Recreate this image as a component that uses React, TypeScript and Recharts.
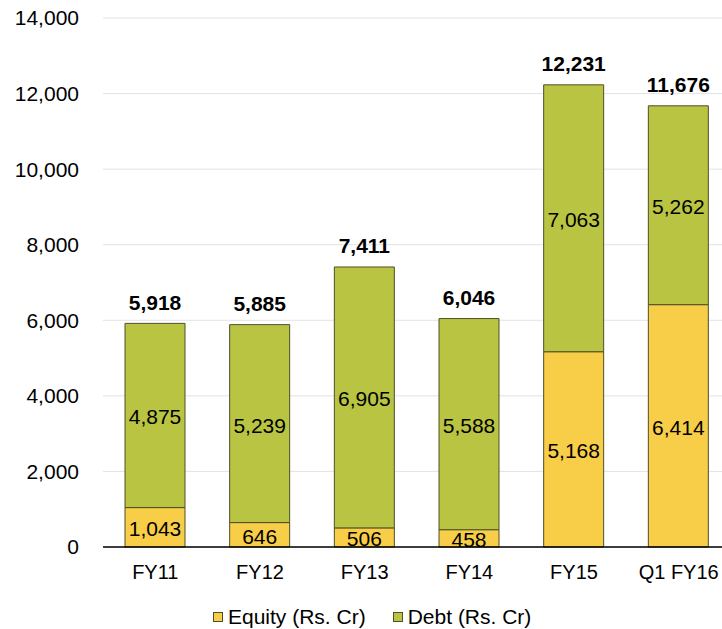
import React from 'react';
import { BarChart, Bar, XAxis, YAxis, CartesianGrid, Legend, LabelList } from 'recharts';

const categories = ['FY11', 'FY12', 'FY13', 'FY14', 'FY15', 'Q1 FY16'];
const equity = [1043, 646, 506, 458, 5168, 6414];
const debt = [4875, 5239, 6905, 5588, 7063, 5262];
const totals = [5918, 5885, 7411, 6046, 12231, 11676];
const yTicks = [0, 2000, 4000, 6000, 8000, 10000, 12000, 14000];

const EQUITY_COLOR = '#F8CD47';
const DEBT_COLOR = '#B9C443';
const EDGE = '#4F4F28';
const FONT = '"Liberation Sans", Arial, sans-serif';

const data = categories.map((name, i) => ({
  name,
  equity: equity[i],
  debt: debt[i],
  total: totals[i],
}));

const fmt = (v: number) => v.toLocaleString('en-US');

const Txt = ({ x, y, size, bold, children }: any) => (
  <text
    x={x}
    y={y}
    textAnchor="middle"
    dominantBaseline="central"
    fontFamily={FONT}
    fontSize={size}
    fontWeight={bold ? 'bold' : 'normal'}
    fill="#000"
  >
    {children}
  </text>
);

const XTick = ({ x, y, payload }: any) => (
  <Txt x={x} y={y + 7.5} size={20}>{payload.value}</Txt>
);

const CenterLabel = ({ x, y, width, height, value }: any) => (
  <Txt x={x + width / 2} y={y + height / 2 + 1.5} size={21}>{fmt(value)}</Txt>
);

const TopLabel = ({ x, y, width, value }: any) => (
  <Txt x={x + width / 2} y={y - 21} size={21} bold>{fmt(value)}</Txt>
);

const Swatch = ({ color }: any) => (
  <span style={{ display: 'inline-block', width: 8, height: 8, background: color, border: `1px solid ${EDGE}`, marginRight: 5 }} />
);

const LegendBox = () => (
  <div style={{ display: 'flex', alignItems: 'center', height: 22, whiteSpace: 'nowrap', fontFamily: FONT, fontSize: '21px', color: '#000' }}>
    <Swatch color={EQUITY_COLOR} />
    <span style={{ marginRight: 27 }}>Equity (Rs. Cr)</span>
    <Swatch color={DEBT_COLOR} />
    <span>Debt (Rs. Cr)</span>
  </div>
);

export default function App() {
  return (
    <div style={{ position: 'absolute', left: 0, top: 0, width: 722, height: 629, overflow: 'hidden', background: '#fff' }}>
      <BarChart
        width={740}
        height={629}
        data={data}
        margin={{ top: 18, right: 9, left: 0, bottom: 0 }}
        barSize={60}
      >
        <CartesianGrid vertical={false} stroke="#e3e3e3" />
        <XAxis
          dataKey="name"
          axisLine={{ stroke: '#000', strokeWidth: 1.5 }}
          tickLine={false}
          tickSize={0}
          tickMargin={17}
          height={60}
          tick={<XTick />}
        />
        <YAxis
          domain={[0, 14000]}
          ticks={yTicks}
          tickFormatter={fmt}
          axisLine={false}
          tickLine={false}
          tickSize={0}
          tickMargin={24}
          width={103}
          tick={{ fill: '#000', fontSize: 21, fontFamily: FONT }}
        />
        <Legend
          verticalAlign="bottom"
          content={() => <LegendBox />}
          wrapperStyle={{ position: 'absolute', left: 213, top: 606, width: 340, height: 22 }}
        />
        <Bar dataKey="equity" name="Equity (Rs. Cr)" stackId="a" fill={EQUITY_COLOR} stroke={EDGE} strokeWidth={1} isAnimationActive={false}>
          <LabelList dataKey="equity" content={<CenterLabel />} />
        </Bar>
        <Bar dataKey="debt" name="Debt (Rs. Cr)" stackId="a" fill={DEBT_COLOR} stroke={EDGE} strokeWidth={1} isAnimationActive={false}>
          <LabelList dataKey="debt" content={<CenterLabel />} />
          <LabelList dataKey="total" content={<TopLabel />} />
        </Bar>
      </BarChart>
    </div>
  );
}
